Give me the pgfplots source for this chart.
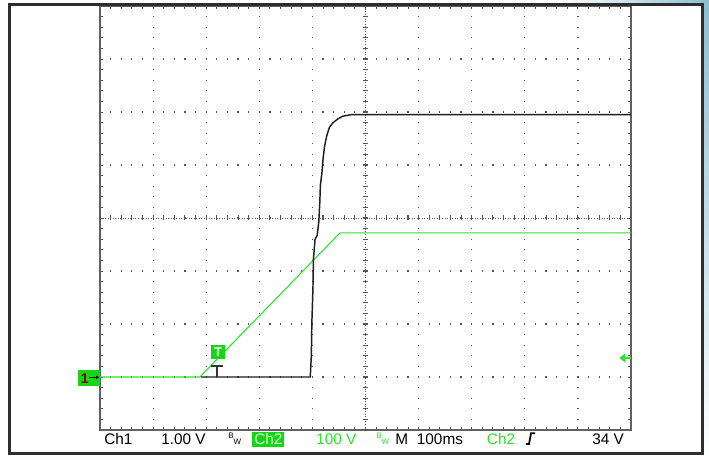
\documentclass[border=0pt]{standalone}
\usepackage{pgfplots}
\pgfplotsset{compat=1.18}
\usetikzlibrary{arrows.meta}
\usepackage{fontspec}
\setmainfont{Liberation Sans}
\definecolor{scopegreen}{RGB}{45,225,45}
\definecolor{boxgreen}{RGB}{20,215,20}
\definecolor{gridgray}{RGB}{85,85,85}
\definecolor{framegray}{RGB}{45,45,45}
\definecolor{skyblue}{RGB}{140,190,208}
\definecolor{markred}{RGB}{130,0,0}
\begin{document}
\begin{tikzpicture}
\useasboundingbox (-75pt,-19.5pt) rectangle (456.75pt,322.5pt);
\fill[white] (-75pt,-19.5pt) rectangle (456.75pt,322.5pt);
\shade[left color=white, right color=skyblue] (345pt,318pt) rectangle (456.75pt,322.5pt);
\shade[top color=skyblue, bottom color=white] (451.5pt,-19.5pt) rectangle (456.75pt,322.5pt);
\begin{axis}[
  at={(0pt,0pt)}, anchor=south west,
  x=39.825pt, y=39.75pt,
  xmin=0, xmax=10, ymin=-1, ymax=7,
  xtick={0,...,10}, ytick={-1,...,7},
  xticklabels={}, yticklabels={},
  minor x tick num=4, minor y tick num=4,
  tick align=inside,
  major tick length=2.6pt, minor tick length=2.6pt,
  tick style={gridgray, line width=0.7pt},
  axis line style={black!62, line width=1pt},
  grid=major,
  major x grid style={gridgray, line width=0.9pt, dash pattern=on 0.9pt off 7.05pt, dash phase=0.45pt},
  major y grid style={gridgray, line width=0.9pt, dash pattern=on 0.9pt off 7.065pt, dash phase=0.45pt},
]
% centre lines of the graticule
\draw[gridgray, line width=0.7pt, dash pattern=on 0.7pt off 1.2pt] (axis cs:0,3) -- (axis cs:10,3);
\draw[gridgray, line width=0.7pt, dash pattern=on 0.7pt off 1.2pt] (axis cs:5,-1) -- (axis cs:5,7);
\draw[gridgray, line width=3.75pt, dash pattern=on 0.8pt off 7.165pt, dash phase=0.4pt] (axis cs:0,3) -- (axis cs:10,3);
\draw[gridgray, line width=3.75pt, dash pattern=on 0.8pt off 7.15pt, dash phase=0.4pt] (axis cs:5,-1) -- (axis cs:5,7);
% Ch2 (green)
\addplot[scopegreen, line width=0.8pt] coordinates {(0,0) (1.88,0) (4.52,2.72) (10,2.72)};
% Ch1 (black)
\addplot[black!88, line width=1.1pt] coordinates {
(1.9,0) (3.96,0) (3.98,0.40) (3.99,1.03) (4.01,1.66) (4.02,2.23) (4.05,2.60)
(4.09,2.67) (4.12,2.92) (4.14,3.30) (4.15,3.62) (4.18,3.86) (4.20,4.11)
(4.23,4.36) (4.27,4.55) (4.32,4.71) (4.39,4.80) (4.48,4.87) (4.57,4.92)
(4.73,4.95) (10,4.95)};
\end{axis}
% outer frame
\draw[framegray, line width=2.25pt] (-67.5pt,-17.6pt) rectangle (451.5pt,318.75pt);
% channel 1 ground marker
\fill[boxgreen] (-16.5pt,33pt) rectangle (0pt,45pt);
\node[anchor=base west, inner sep=0, text=markred, font=\fontsize{10.5}{12}\selectfont\bfseries] at (-14.5pt,35pt) {1};
\draw[black, line width=0.8pt, -{Latex[length=2.5pt,width=3pt]}] (-8pt,39.5pt) -- (-0.5pt,39.5pt);
% trigger markers
\fill[boxgreen] (83.25pt,53.25pt) rectangle (93.75pt,63.75pt);
\node[anchor=center, inner sep=0, text=white, font=\fontsize{9.5}{10}\selectfont\bfseries] at (88.5pt,58.5pt) {T};
\draw[black!80, line width=1.5pt] (83.5pt,48pt) -- (92.25pt,48pt);
\draw[black!80, line width=1.5pt] (87.75pt,48pt) -- (87.75pt,39.75pt);
% trigger level arrow (right)
\fill[scopegreen] (389.5pt,54pt) -- (394pt,57.5pt) -- (394pt,50.5pt) -- cycle;
\draw[scopegreen, line width=1.4pt] (393pt,54pt) -- (398.25pt,54pt);
% status line
\begin{scope}[every node/.style={anchor=base west, inner sep=0, font=\fontsize{11.5}{13}\selectfont}]
\node at (3pt,-10.5pt) {Ch1};
\node at (45.75pt,-10.5pt) {1.00 V};
\node[font=\fontsize{6}{6}\selectfont] at (96pt,-6.5pt) {B\raisebox{-4pt}{W}};
\fill[boxgreen] (113.75pt,-13pt) rectangle (138.25pt,-1.75pt);
\node[text=green!12!white] at (115.5pt,-10.5pt) {Ch2};
\node[text=scopegreen] at (162pt,-10.5pt) {100 V};
\node[text=scopegreen, font=\fontsize{6}{6}\selectfont] at (207pt,-6.5pt) {B\raisebox{-4pt}{W}};
\node at (221.25pt,-10.5pt) {M};
\node at (237.5pt,-10.5pt) {100ms};
\node[text=scopegreen] at (290pt,-10.5pt) {Ch2};
\node at (369pt,-10.5pt) {34 V};
\end{scope}
\draw[black, line width=1.3pt] (319.5pt,-10.5pt) -- (321.75pt,-10.5pt) -- (323.25pt,-2.5pt) -- (326.25pt,-2.5pt);
\end{tikzpicture}
\end{document}
